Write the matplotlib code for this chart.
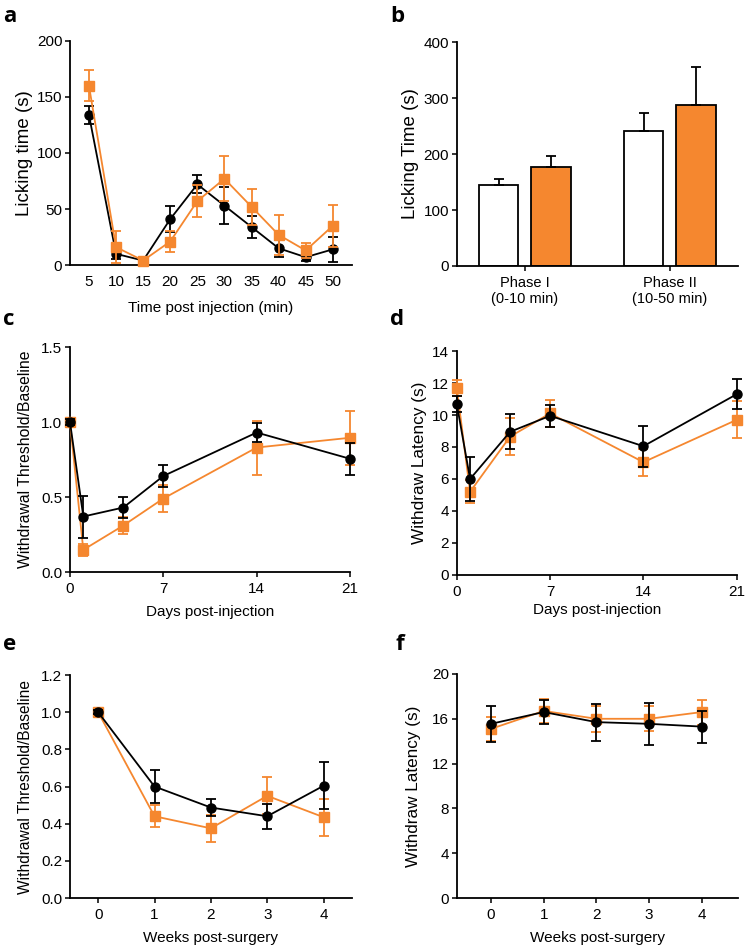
import numpy as np
import matplotlib
matplotlib.use("Agg")
import matplotlib.pyplot as plt

plt.rcParams['font.family'] = ['Liberation Sans', 'DejaVu Sans']
plt.rcParams['font.size'] = 11

ORANGE = '#F5872F'

# panel a: licking time course
a_x = [5, 10, 15, 20, 25, 30, 35, 40, 45, 50]
a_blk = [134, 10, 4, 41, 72, 53, 34, 15, 7, 14]
a_blk_err = [8, 5, 1, 11.5, 8, 16.5, 10, 7.5, 3, 11]
a_org = [160, 16, 4, 21, 57, 77, 52, 27, 13, 35]
a_org_err = [14, 14.5, 1, 9.5, 14, 20, 16, 18, 7, 19]

# panel b: phase bars
b_cats = ['Phase I\n(0-10 min)', 'Phase II\n(10-50 min)']
b_white = [144, 241]
b_white_err = [12, 32]
b_org = [176, 287]
b_org_err = [20, 68]

# panel c: threshold / baseline, days
c_x = [0, 1, 4, 7, 14, 21]
c_blk = [1.0, 0.37, 0.43, 0.64, 0.93, 0.755]
c_blk_err = [0.02, 0.14, 0.07, 0.075, 0.065, 0.107]
c_org = [1.0, 0.148, 0.31, 0.49, 0.83, 0.895]
c_org_err = [0.02, 0.042, 0.057, 0.09, 0.18, 0.18]

# panel d: withdraw latency, days
d_x = [0, 1, 4, 7, 14, 21]
d_blk = [10.7, 6.0, 8.95, 9.95, 8.05, 11.3]
d_blk_err = [0.5, 1.4, 1.1, 0.7, 1.27, 0.93]
d_org = [11.7, 5.2, 8.65, 10.1, 7.05, 9.7]
d_org_err = [0.5, 0.73, 1.15, 0.83, 0.85, 1.15]

# panel e: threshold / baseline, weeks
e_x = [0, 1, 2, 3, 4]
e_blk = [1.0, 0.60, 0.487, 0.44, 0.604]
e_blk_err = [0.01, 0.087, 0.047, 0.068, 0.127]
e_org = [1.0, 0.44, 0.375, 0.55, 0.435]
e_org_err = [0.01, 0.059, 0.074, 0.1, 0.1]

# panel f: withdraw latency, weeks
f_x = [0, 1, 2, 3, 4]
f_blk = [15.55, 16.6, 15.7, 15.55, 15.3]
f_blk_err = [1.63, 1.04, 1.65, 1.9, 1.42]
f_org = [15.1, 16.7, 16.0, 16.0, 16.6]
f_org_err = [1.04, 1.1, 1.17, 1.12, 1.12]

fig = plt.figure(figsize=(7.5, 9.51), dpi=100)


def style(ax, xtick_len=3.5):
    for s in ['top', 'right']:
        ax.spines[s].set_visible(False)
    for s in ['left', 'bottom']:
        ax.spines[s].set_linewidth(1.3)
    ax.tick_params(direction='out', length=3.5, width=1.1, labelsize=11, pad=2)
    ax.tick_params(axis='x', length=xtick_len, pad=5 - xtick_len + 2)


def series(ax, x, y, err, color, marker, z):
    ax.errorbar(x, y, yerr=err, color=color, marker=marker, markersize=6.5,
                linewidth=1.3, elinewidth=1.3, capsize=3.5, capthick=1.3,
                zorder=z, clip_on=False)


def letter(x, y, s):
    fig.text(x, y, s, fontsize=16, fontweight='bold', family='Open Sans', va='baseline')


# a
ax = fig.add_axes([0.0933, 0.7213, 0.3757, 0.2357])
style(ax, xtick_len=0)
series(ax, a_x, a_blk, a_blk_err, 'black', 'o', 3)
series(ax, a_x, a_org, a_org_err, ORANGE, 's', 4)
ax.set_xlim(1.5, 53.5)
ax.set_ylim(0, 200)
ax.set_xticks(a_x)
ax.set_yticks([0, 50, 100, 150, 200])
ax.set_ylabel('Licking time (s)', fontsize=13.5, labelpad=3)
ax.set_xlabel('Time post injection (min)', labelpad=9)

# b
ax = fig.add_axes([0.609, 0.7203, 0.375, 0.2355])
style(ax)
pos = np.arange(len(b_cats))
ekw = dict(ecolor='black', elinewidth=1.3, capsize=3.6, capthick=1.3)
ax.bar(pos - 0.18, b_white, width=0.27, color='white', edgecolor='black', linewidth=1.3,
       yerr=[[0, 0], b_white_err], error_kw=ekw)
ax.bar(pos + 0.18, b_org, width=0.27, color=ORANGE, edgecolor='black', linewidth=1.3,
       yerr=[[0, 0], b_org_err], error_kw=ekw)
ax.set_xlim(-0.47, 1.47)
ax.set_ylim(0, 400)
ax.set_yticks([0, 100, 200, 300, 400])
ax.set_xticks(pos)
ax.set_xticklabels(b_cats, fontsize=10.5)
ax.set_ylabel('Licking Time (s)', fontsize=13.5, labelpad=3)

# c
ax = fig.add_axes([0.0933, 0.3985, 0.3734, 0.2366])
style(ax)
series(ax, c_x, c_org, c_org_err, ORANGE, 's', 3)
series(ax, c_x, c_blk, c_blk_err, 'black', 'o', 4)
ax.set_xlim(0, 21)
ax.set_ylim(0, 1.5)
ax.set_xticks([0, 7, 14, 21])
ax.set_yticks([0, 0.5, 1.0, 1.5])
ax.set_yticklabels(['0.0', '0.5', '1.0', '1.5'])
ax.set_ylabel('Withdrawal Threshold/Baseline', fontsize=11.3, labelpad=6)
ax.set_xlabel('Days post-injection', labelpad=7)

# d
ax = fig.add_axes([0.609, 0.3954, 0.3733, 0.2355])
style(ax)
series(ax, d_x, d_org, d_org_err, ORANGE, 's', 3)
series(ax, d_x, d_blk, d_blk_err, 'black', 'o', 4)
ax.set_xlim(0, 21)
ax.set_ylim(0, 14)
ax.set_xticks([0, 7, 14, 21])
ax.set_yticks(range(0, 15, 2))
ax.set_ylabel('Withdraw Latency (s)', fontsize=12.4, labelpad=4)
ax.set_xlabel('Days post-injection', labelpad=3)

# e
ax = fig.add_axes([0.0933, 0.0557, 0.3757, 0.2345])
style(ax)
series(ax, e_x, e_org, e_org_err, ORANGE, 's', 3)
series(ax, e_x, e_blk, e_blk_err, 'black', 'o', 4)
ax.set_xlim(-0.5, 4.5)
ax.set_ylim(0, 1.2)
ax.set_xticks(e_x)
ax.set_yticks([0, 0.2, 0.4, 0.6, 0.8, 1.0, 1.2])
ax.set_yticklabels(['0.0', '0.2', '0.4', '0.6', '0.8', '1.0', '1.2'])
ax.set_ylabel('Withdrawal Threshold/Baseline', fontsize=11.2, labelpad=6)
ax.set_xlabel('Weeks post-surgery', labelpad=7)

# f
ax = fig.add_axes([0.609, 0.0557, 0.3746, 0.2356])
style(ax)
series(ax, f_x, f_org, f_org_err, ORANGE, 's', 3)
series(ax, f_x, f_blk, f_blk_err, 'black', 'o', 4)
ax.set_xlim(-0.65, 4.68)
ax.set_ylim(0, 20)
ax.set_xticks(f_x)
ax.set_yticks([0, 4, 8, 12, 16, 20])
ax.set_ylabel('Withdraw Latency (s)', fontsize=12.3, labelpad=8)
ax.set_xlabel('Weeks post-surgery', labelpad=7)

letter(0.004, 0.9769, 'a')
letter(0.52, 0.9769, 'b')
letter(0.004, 0.6583, 'c')
letter(0.52, 0.6583, 'd')
letter(0.004, 0.3165, 'e')
letter(0.527, 0.3165, 'f')

fig.savefig('out.png', dpi=100)
